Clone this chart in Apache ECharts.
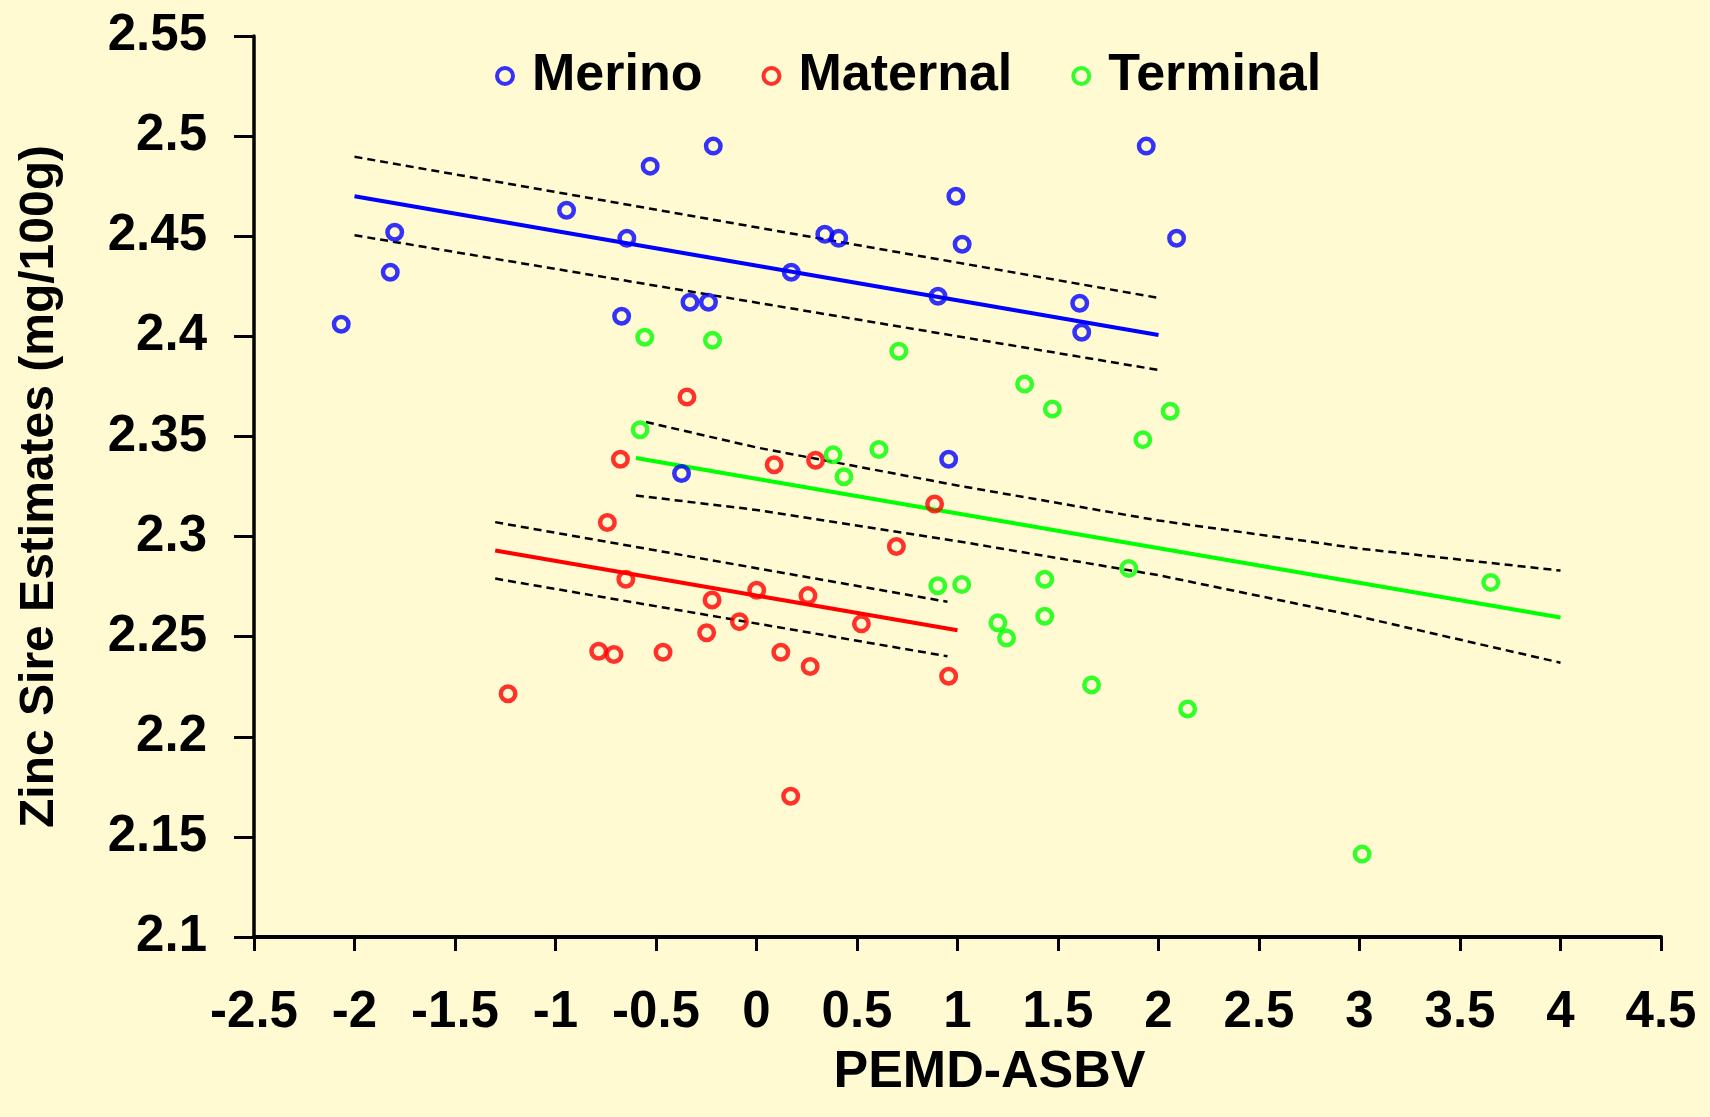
<!DOCTYPE html>
<html>
<head>
<meta charset="utf-8">
<script src="https://cdn.jsdelivr.net/npm/echarts@6/dist/echarts.min.js"></script>
<style>
  html, body { margin: 0; padding: 0; background: #FFFAD2; }
  #chart { width: 1710px; height: 1117px; }
</style>
</head>
<body>
<div id="chart"></div>
<script>
// Sire estimates for zinc against PEMD-ASBV, one group per breed type
const merino = [
  [-2.066, 2.406], [-1.822, 2.432], [-1.800, 2.452], [-0.945, 2.463],
  [-0.529, 2.485], [-0.215, 2.495], [-0.645, 2.449], [-0.671, 2.410],
  [-0.331, 2.417], [-0.239, 2.417], [0.173, 2.432], [0.340, 2.451],
  [0.409, 2.449], [0.992, 2.470], [1.023, 2.446], [0.903, 2.420],
  [1.608, 2.4165], [1.618, 2.402], [1.939, 2.495], [2.090, 2.449],
  [-0.373, 2.3315], [0.956, 2.3386]
];
const maternal = [
  [-1.236, 2.2215], [-0.785, 2.2427], [-0.709, 2.2411], [-0.742, 2.307],
  [-0.677, 2.3386], [-0.650, 2.2787], [-0.346, 2.3697], [-0.465, 2.2422],
  [-0.221, 2.2683], [-0.248, 2.252], [-0.085, 2.2575], [0.001, 2.2732],
  [0.088, 2.3359], [0.121, 2.2422], [0.170, 2.1703], [0.256, 2.2705],
  [0.267, 2.2351], [0.294, 2.3381], [0.522, 2.2564], [0.696, 2.295],
  [0.886, 2.3163], [0.956, 2.2302]
];
const terminal = [
  [-0.556, 2.3995], [-0.219, 2.398], [-0.579, 2.3533], [0.381, 2.3408],
  [0.435, 2.3299], [0.609, 2.3435], [0.708, 2.3926], [1.334, 2.3762],
  [1.472, 2.3637], [1.922, 2.3484], [2.058, 2.3626], [0.902, 2.2754],
  [1.021, 2.276], [1.201, 2.2569], [1.244, 2.2493], [1.434, 2.2787],
  [1.434, 2.2602], [1.667, 2.2259], [1.852, 2.2841], [2.145, 2.2139],
  [3.013, 2.1414], [3.653, 2.2771]
];

// Fitted regression lines
const merinoFit = [[-2.0, 2.470], [2.0, 2.4007]];
const maternalFit = [[-1.3, 2.2930], [1.0, 2.2532]];
const terminalFit = [[-0.6, 2.3392], [4.0, 2.2596]];

// 95% confidence limits around each fit
const merinoUpper = [[-2.0, 2.4897], [2.0, 2.4192]];
const merinoLower = [[-2.0, 2.4505], [2.0, 2.3832]];
const maternalUpper = [[-1.3, 2.3072], [0.95, 2.2674]];
const maternalLower = [[-1.3, 2.2790], [0.95, 2.2402]];
const terminalUpper = [[-0.55, 2.3572], [0, 2.3445], [1, 2.3255], [2, 2.3080], [3, 2.2940], [4, 2.2830]];
const terminalLower = [[-0.6, 2.3205], [0, 2.3133], [1, 2.2977], [2, 2.2807], [3, 2.2600], [4, 2.2370]];

const xTicks = { min: -2.5, max: 4.5, interval: 0.5 };
const yTicks = { min: 2.1, max: 2.55, interval: 0.05 };

const FONT = '"Liberation Sans", Arial, sans-serif';
const BLUE = '#0000FF', RED = '#FF0000', GREEN = '#00FF00';

function pointSeries(name, data, color) {
  return {
    name, type: 'scatter', data, z: 5,
    symbol: 'circle', symbolSize: 14.5,
    itemStyle: { color: 'rgba(0,0,0,0)', borderColor: color, borderWidth: 4.5 },
    emphasis: { disabled: true }
  };
}
function fitSeries(data, color) {
  return {
    type: 'line', data, showSymbol: false, silent: true, z: 3,
    lineStyle: { color, width: 4 }
  };
}
function limitSeries(data) {
  return {
    type: 'line', data, showSymbol: false, silent: true, z: 2,
    lineStyle: { color: '#000', width: 2.5, type: [8, 5] }
  };
}

const chart = echarts.init(document.getElementById('chart'));
chart.setOption({
  backgroundColor: '#FFFAD2',
  animation: false,
  textStyle: { fontFamily: FONT },
  grid: { left: 254, right: 49, top: 36, bottom: 180, containLabel: false },
  legend: {
    data: ['Merino', 'Maternal', 'Terminal'],
    left: 495, top: 50, padding: 0,
    itemWidth: 16, itemHeight: 16, itemGap: 59,
    itemStyle: { borderWidth: 4 },
    textStyle: { fontFamily: FONT, fontSize: 52, fontWeight: 'bold', color: '#000',
                 lineHeight: 52, padding: [0, 0, 0, 14] }
  },
  xAxis: {
    type: 'value', min: xTicks.min, max: xTicks.max, interval: xTicks.interval,
    name: 'PEMD-ASBV', nameLocation: 'middle', nameGap: 110,
    nameTextStyle: { fontFamily: FONT, fontSize: 52, fontWeight: 'bold', color: '#000',
                     padding: [0, 0, 0, 64] },
    axisLine: { onZero: false, lineStyle: { color: '#000', width: 4 } },
    axisTick: { length: 14, lineStyle: { color: '#000', width: 3 } },
    axisLabel: { fontFamily: FONT, fontSize: 51, fontWeight: 'bold', color: '#000', margin: 50 },
    splitLine: { show: false }
  },
  yAxis: {
    type: 'value', min: yTicks.min, max: yTicks.max, interval: yTicks.interval,
    name: 'Zinc Sire Estimates (mg/100g)', nameLocation: 'middle', nameGap: 190, nameRotate: 90,
    nameTextStyle: { fontFamily: FONT, fontSize: 48, fontWeight: 'bold', color: '#000' },
    axisLine: { onZero: false, lineStyle: { color: '#000', width: 3.5 } },
    axisTick: { length: 20, lineStyle: { color: '#000', width: 3 } },
    axisLabel: { fontFamily: FONT, fontSize: 51, fontWeight: 'bold', color: '#000', margin: 47 },
    splitLine: { show: false }
  },
  series: [
    limitSeries(merinoUpper), limitSeries(merinoLower),
    limitSeries(maternalUpper), limitSeries(maternalLower),
    limitSeries(terminalUpper), limitSeries(terminalLower),
    fitSeries(merinoFit, BLUE), fitSeries(maternalFit, RED), fitSeries(terminalFit, GREEN),
    pointSeries('Merino', merino, BLUE),
    pointSeries('Maternal', maternal, RED),
    pointSeries('Terminal', terminal, GREEN)
  ]
});
</script>
</body>
</html>
